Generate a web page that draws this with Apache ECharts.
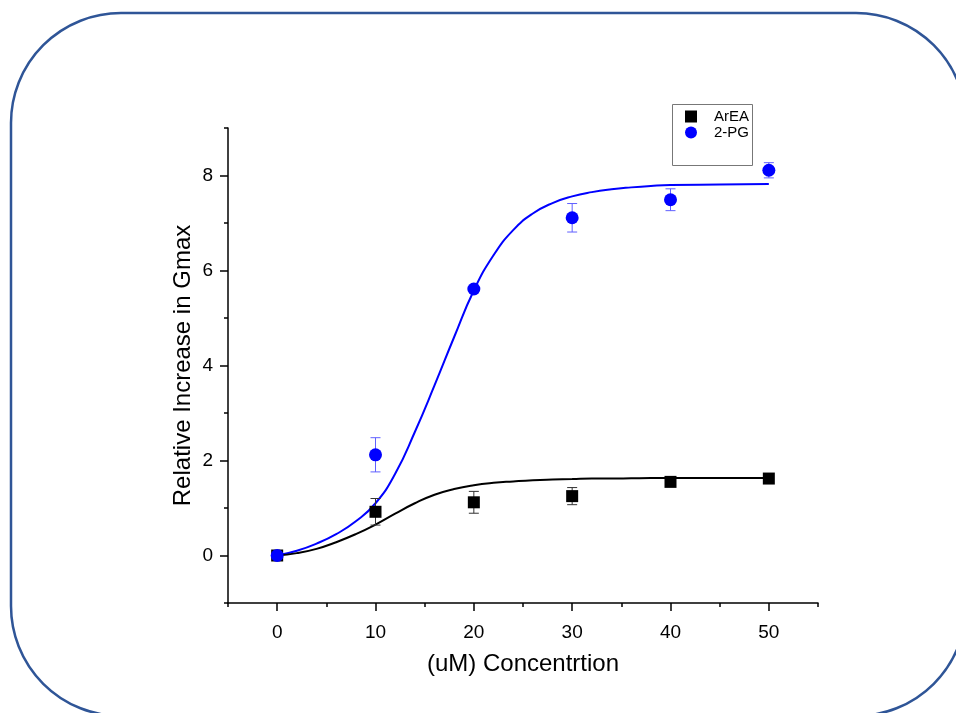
<!DOCTYPE html>
<html>
<head>
<meta charset="utf-8">
<script src="https://cdn.jsdelivr.net/npm/echarts@6/dist/echarts.min.js"></script>
<style>
html,body{margin:0;padding:0;background:#fff;}
#chart{width:956px;height:713px;}
</style>
</head>
<body>
<div id="chart"></div>
<script>
// ---- data ----
const concentrations = [0, 10, 20, 30, 40, 50];
const arEA = [0, 0.92, 1.12, 1.25, 1.55, 1.62];
const arEAErr = [0.02, 0.28, 0.23, 0.18, 0.05, 0.05];
const pg2 = [0, 2.12, 5.61, 7.11, 7.49, 8.11];
const pg2Err = [0.03, 0.36, 0.05, 0.30, 0.23, 0.16];

// fitted curves
const fitX = [0, 2, 4, 6, 8, 10, 12, 14, 16, 18, 20, 22, 24, 26, 28, 30, 32, 34, 36, 38, 40, 45, 50];
const fitPG = [0, 0.1, 0.25, 0.45, 0.72, 1.1, 1.72, 2.6, 3.58, 4.6, 5.58, 6.32, 6.85, 7.2, 7.42, 7.56, 7.65, 7.71, 7.75, 7.78, 7.8, 7.81, 7.82];
const fitArEA = [0, 0.05, 0.14, 0.28, 0.45, 0.65, 0.88, 1.1, 1.28, 1.4, 1.48, 1.53, 1.56, 1.585, 1.6, 1.61, 1.62, 1.62, 1.625, 1.63, 1.63, 1.63, 1.63];

const xLabels = [0, 10, 20, 30, 40, 50];
const xMinorTicks = [-5, 5, 15, 25, 35, 45, 55];
const yLabels = [0, 2, 4, 6, 8];
const yMinorTicks = [-1, 1, 3, 5, 7, 9];

const FONT = '"Liberation Sans", Arial, sans-serif';

function pairs(xs, ys) { return xs.map((x, i) => [x, ys[i]]); }
function errData(xs, ys, es) { return xs.map((x, i) => [x, ys[i] - es[i], ys[i] + es[i]]); }

function errRender(color) {
  return function (params, api) {
    const x = api.value(0);
    const lo = api.coord([x, api.value(1)]);
    const hi = api.coord([x, api.value(2)]);
    const w = 5;
    const st = { stroke: color, lineWidth: 1 };
    return {
      type: 'group',
      children: [
        { type: 'line', shape: { x1: lo[0], y1: lo[1], x2: hi[0], y2: hi[1] }, style: st },
        { type: 'line', shape: { x1: lo[0] - w, y1: lo[1], x2: lo[0] + w, y2: lo[1] }, style: st },
        { type: 'line', shape: { x1: hi[0] - w, y1: hi[1], x2: hi[0] + w, y2: hi[1] }, style: st }
      ]
    };
  };
}

const chart = echarts.init(document.getElementById('chart'), null, { renderer: 'canvas' });

const axisLineStyle = { color: '#000', width: 1.5 };

chart.setOption({
  animation: false,
  backgroundColor: '#fff',
  textStyle: { fontFamily: FONT },
  grid: { left: 228, right: 138, top: 128, bottom: 110, containLabel: false },
  legend: {
    orient: 'vertical',
    left: 680,
    top: 104,
    itemWidth: 12,
    itemHeight: 12,
    itemGap: 1,
    textStyle: { fontFamily: FONT, fontSize: 15, color: '#000', padding: [0, 0, 0, 12] },
    data: [
      { name: 'ArEA', icon: 'rect', itemStyle: { color: '#000', opacity: 1 } },
      { name: '2-PG', icon: 'circle', itemStyle: { color: '#0000ff', opacity: 1 } }
    ]
  },
  xAxis: [
    {
      type: 'value', min: -5, max: 55, interval: 5,
      name: '(uM) Concentrtion', nameLocation: 'middle', nameGap: 49, nameMoveOverlap: false,
      nameTextStyle: { fontFamily: FONT, fontSize: 24, color: '#000' },
      axisLine: { show: true, onZero: false, lineStyle: axisLineStyle },
      axisTick: { show: true, inside: false, length: 8, customValues: xLabels, lineStyle: axisLineStyle },
      axisLabel: { show: true, customValues: xLabels, margin: 20, fontFamily: FONT, fontSize: 19, color: '#000' },
      splitLine: { show: false }
    },
    {
      type: 'value', min: -5, max: 55, interval: 5, position: 'bottom',
      axisLine: { show: false, onZero: false },
      axisTick: { show: true, inside: false, length: 4, customValues: xMinorTicks, lineStyle: axisLineStyle },
      axisLabel: { show: false },
      splitLine: { show: false }
    }
  ],
  yAxis: [
    {
      type: 'value', min: -1, max: 9, interval: 1,
      name: 'Relative Increase in Gmax', nameLocation: 'middle', nameGap: 33, nameMoveOverlap: false,
      nameTextStyle: { fontFamily: FONT, fontSize: 24, color: '#000' },
      axisLine: { show: true, onZero: false, lineStyle: axisLineStyle },
      axisTick: { show: true, inside: false, length: 8, customValues: yLabels, lineStyle: axisLineStyle },
      axisLabel: { show: true, customValues: yLabels, margin: 15, fontFamily: FONT, fontSize: 19, color: '#000' },
      splitLine: { show: false }
    },
    {
      type: 'value', min: -1, max: 9, interval: 1, position: 'left',
      axisLine: { show: false, onZero: false },
      axisTick: { show: true, inside: false, length: 4, customValues: yMinorTicks, lineStyle: axisLineStyle },
      axisLabel: { show: false },
      splitLine: { show: false }
    }
  ],
  series: [
    {
      name: 'fitPG', type: 'line', data: pairs(fitX, fitPG), smooth: 0.5, showSymbol: false,
      lineStyle: { color: '#0000ff', width: 2 }, z: 2, silent: true
    },
    {
      name: 'fitArEA', type: 'line', data: pairs(fitX, fitArEA), smooth: 0.5, showSymbol: false,
      lineStyle: { color: '#000', width: 2 }, z: 2, silent: true
    },
    {
      name: 'errPG', type: 'custom', renderItem: errRender('#6060ff'),
      data: errData(concentrations, pg2, pg2Err), encode: { x: 0, y: [1, 2] }, z: 3, silent: true
    },
    {
      name: 'errArEA', type: 'custom', renderItem: errRender('#333'),
      data: errData(concentrations, arEA, arEAErr), encode: { x: 0, y: [1, 2] }, z: 3, silent: true
    },
    {
      name: 'ArEA', type: 'scatter', data: pairs(concentrations, arEA), symbol: 'rect', symbolSize: 12,
      itemStyle: { color: '#000', opacity: 1 }, z: 4
    },
    {
      name: '2-PG', type: 'scatter', data: pairs(concentrations, pg2), symbol: 'circle', symbolSize: 13,
      itemStyle: { color: '#0000ff', opacity: 1 }, z: 5
    }
  ],
  graphic: [
    {
      type: 'rect', silent: true, z: -1,
      shape: { x: 11, y: 13, width: 955, height: 703, r: 110 },
      style: { fill: 'none', stroke: '#2F5597', lineWidth: 2.5 }
    },
    {
      type: 'rect', silent: true, z: 10,
      shape: { x: 672.5, y: 104.5, width: 80, height: 61 },
      style: { fill: 'none', stroke: '#777', lineWidth: 1 }
    }
  ]
});
</script>
</body>
</html>
